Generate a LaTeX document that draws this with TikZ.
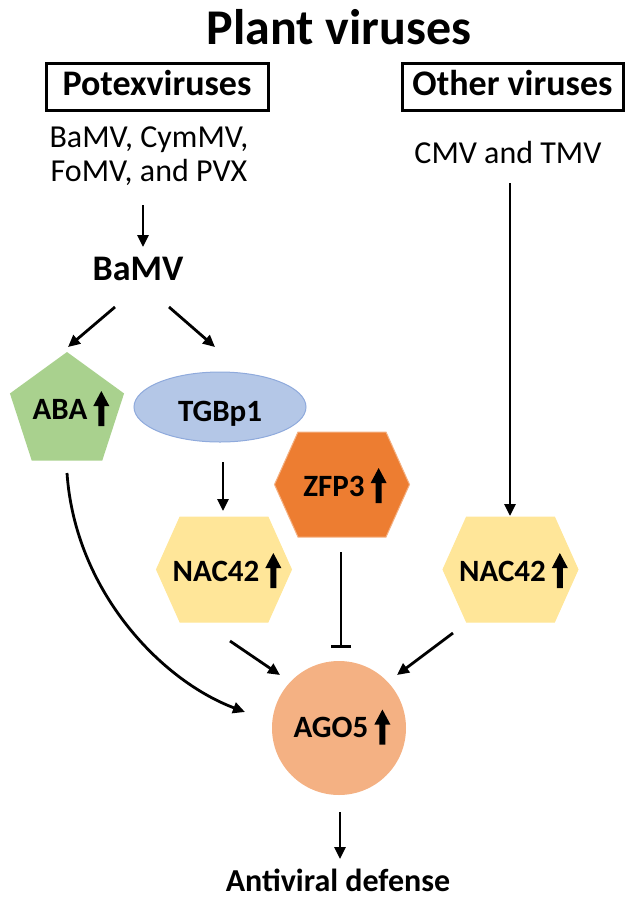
\documentclass[tikz,border=0pt]{standalone}
\usepackage{fontspec}
\setmainfont{Carlito}
\usetikzlibrary{shapes.geometric,arrows.meta,calc}
\pgfdeclarelayer{bg}
\pgfsetlayers{bg,main}
\definecolor{abag}{HTML}{A9D18E}
\definecolor{tgbf}{HTML}{B4C7E7}
\definecolor{tgbd}{HTML}{8FAADC}
\definecolor{zfpf}{HTML}{ED7D31}
\definecolor{zfpd}{HTML}{F4B183}
\definecolor{nacf}{HTML}{FFE699}
\definecolor{agof}{HTML}{F4B183}
\newcommand{\uparr}{\hspace{6pt}\tikz[x=1pt,y=1pt,baseline=7pt]\fill[black] (-3,0)--(-3,20)--(-8,20)--(0,35)--(8,20)--(3,20)--(3,0)--cycle;}
\tikzset{
  lbl/.style={font=\bfseries\fontsize{31}{37}\selectfont, inner sep=0pt, text height=20pt, text depth=0pt},
  arr/.style={line width=2.8pt, -{Triangle[length=12pt,width=11pt]}},
  inhib/.style={line width=2.8pt, -{Bar[width=20pt]}},
  boxed/.style={draw, line width=3pt, minimum height=47pt, inner xsep=0pt,
    font=\bfseries\fontsize{36}{43}\selectfont, text height=23pt, text depth=5pt},
  plain/.style={font=\fontsize{32}{34}\selectfont, inner sep=0pt, align=center},
  hexfill/.style={line width=1pt},
}
\begin{document}
\begin{tikzpicture}[x=1pt,y=-1pt]
\useasboundingbox (0,0) rectangle (633,898);
% texts
\node[font=\bfseries\fontsize{50}{58}\selectfont, inner sep=0pt, text height=32pt, text depth=0pt] (title) at (339,28) {Plant viruses};
\node[boxed, minimum width=222pt] (pot) at (157,86.5) {Potexviruses};
\node[boxed, minimum width=221pt] (oth) at (512.5,86.5) {Other viruses};
\node[plain] (potlist) at (149,156) {BaMV, CymMV,\\FoMV, and PVX};
\node[plain, text height=20.6pt, text depth=0pt] (cmv) at (508,153) {CMV and TMV};
\node[font=\bfseries\fontsize{36}{43}\selectfont, inner sep=0pt, text height=23pt, text depth=0pt] (bamv) at (138,269) {BaMV};
\node[lbl] (aba) at (71,409) {ABA\uparr};
\node[lbl] (tgb) at (220,411) {TGBp1};
\node[lbl] (zfp) at (345,486) {ZFP3\uparr};
\node[lbl] (nacl) at (227,571) {NAC42\uparr};
\node[lbl] (nacr) at (513.5,571) {NAC42\uparr};
\node[lbl] (ago) at (342,727.5) {AGO5\uparr};
\node[font=\bfseries\fontsize{32}{38}\selectfont, inner sep=0pt, text height=20.6pt, text depth=0pt] (anti) at (338,881) {Antiviral defense};
% shapes behind
\begin{pgfonlayer}{bg}
\node[regular polygon, regular polygon sides=5, minimum size=120pt, inner sep=0pt, fill=abag] (abashape) at ($(aba)+(-4,3)$) {};
\node[ellipse, minimum width=172pt, minimum height=70pt, inner sep=0pt, fill=tgbf, draw=tgbd, line width=1pt] (tgbshape) at ($(tgb)+(0,-4)$) {};
\node[circle, minimum size=134pt, inner sep=0pt, fill=agof] (agoshape) at ($(ago)+(-3,0.5)$) {};
\foreach \n/\f/\d in {zfp/zfpf/zfpd, nacl/nacf/nacf, nacr/nacf/nacf}{
  \filldraw[hexfill, fill=\f, draw=\d]
    ($(\n)+(-70.5,-1.5)$) -- ($(\n)+(-47,-54)$) -- ($(\n)+(41,-54)$) --
    ($(\n)+(64.5,-1.5)$) -- ($(\n)+(41,51)$) -- ($(\n)+(-47,51)$) -- cycle;
}
\end{pgfonlayer}
% connectors
\draw[arr] ($(potlist)+(-6,49)$) -- ($(bamv)+(5,-22)$);
\draw[arr] ($(bamv)+(-23,38)$) -- ($(aba)+(-3,-62)$);
\draw[arr] ($(bamv)+(31,38)$) -- ($(tgb)+(-5,-64)$);
\draw[arr] ($(tgb)+(3,51)$) -- ($(nacl)+(-4,-60)$);
\draw[arr] ($(cmv)+(2,30)$) -- ($(nacr)+(-3.5,-55)$);
\draw[inhib] ($(zfp)+(-4,66)$) -- ($(ago)+(-1,-79.5)$);
\draw[arr] ($(nacl)+(3,70)$) -- ($(ago)+(-62,-52.5)$);
\draw[arr] ($(nacr)+(-60.5,62)$) -- ($(ago)+(55,-52.5)$);
\draw[arr] ($(aba)+(-4,64)$) .. controls ($(aba)+(4,181)$) and ($(ago)+(-182,-47.5)$) .. ($(ago)+(-97,-15.5)$);
\draw[arr] ($(ago)+(-2,84.5)$) -- ($(anti)+(2,-22)$);
\end{tikzpicture}
\end{document}
